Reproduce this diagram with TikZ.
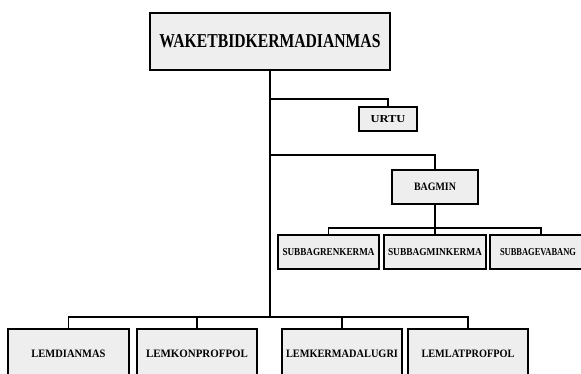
\documentclass[tikz,border=0pt]{standalone}
\usepackage{fontspec}
\setmainfont{Liberation Serif}
\usepackage{graphicx}
\tikzset{
  box/.style={draw=black, line width=2.2pt, fill=gray!13, inner sep=0pt, anchor=center},
  conn/.style={draw=black, line width=1.6pt},
}
\newcommand{\lbl}[3]{\resizebox{#1pt}{#2pt}{\textbf{#3}}}
\begin{document}
\begin{tikzpicture}[x=1pt,y=-1pt]
\useasboundingbox (0,0) rectangle (581,374);
% boxes
\node[box, minimum width=240pt, minimum height=57pt] (top) at (270,41.5) {\lbl{221}{13}{WAKETBIDKERMADIANMAS}};
\node[box, minimum width=58pt, minimum height=24pt] (urtu) at (388,119) {\lbl{35}{7}{URTU}};
\node[box, minimum width=86pt, minimum height=34pt] (bagmin) at (435,187) {\lbl{42}{7.5}{BAGMIN}};
\node[box, minimum width=101pt, minimum height=34pt] (s1) at (328.5,252) {\lbl{92}{7}{SUBBAGRENKERMA}};
\node[box, minimum width=102pt, minimum height=34pt] (s2) at (435,252) {\lbl{94}{7}{SUBBAGMINKERMA}};
\node[box, minimum width=102pt, minimum height=34pt] (s3) at (541,252) {\hspace*{-6pt}\lbl{76}{7}{SUBBAGEVABANG}};
\node[box, minimum width=121pt, minimum height=49pt] (l1) at (68.5,353.5) {\lbl{74}{7.5}{LEMDIANMAS}};
\node[box, minimum width=120pt, minimum height=49pt] (l2) at (197,353.5) {\lbl{102}{7.5}{LEMKONPROFPOL}};
\node[box, minimum width=120pt, minimum height=49pt] (l3) at (342,353.5) {\lbl{112}{7.5}{LEMKERMADALUGRI}};
\node[box, minimum width=120pt, minimum height=49pt] (l4) at (468,353.5) {\lbl{93}{7.5}{LEMLATPROFPOL}};
% junctions
\coordinate (j1) at (270,99);
\coordinate (j2) at (270,155);
\coordinate (j3) at (270,317);
\coordinate (j4) at (435,228);
% connectors
\draw[conn] (top.south) -- (j3);
\draw[conn] (j1) -| (urtu.north);
\draw[conn] (j2) -| (bagmin.north);
\draw[conn] (bagmin.south) -- (j4);
\draw[conn] (j4) -| (s1.north);
\draw[conn] (j4) -- (s2.north);
\draw[conn] (j4) -| (s3.north);
\draw[conn] (j3) -| (l1.north);
\draw[conn] (j3) -| (l2.north);
\draw[conn] (j3) -| (l3.north);
\draw[conn] (j3) -| (l4.north);
\end{tikzpicture}
\end{document}
